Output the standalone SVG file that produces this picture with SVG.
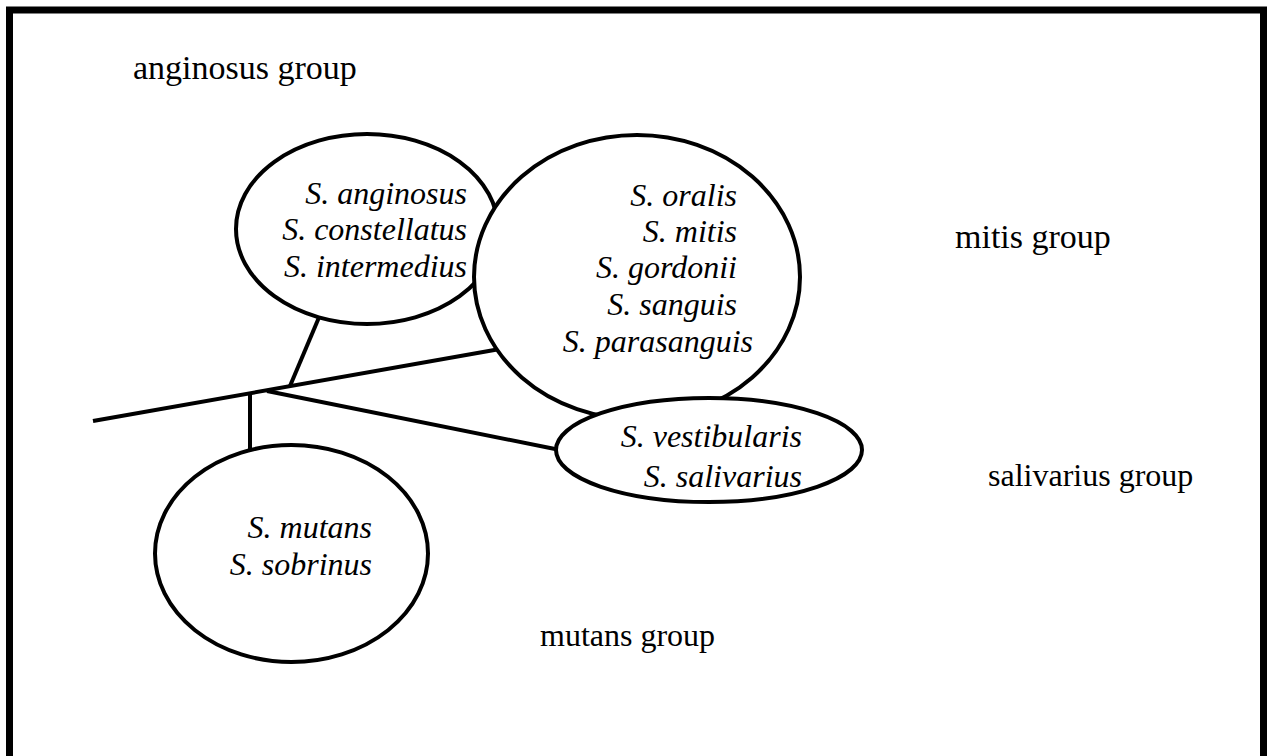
<svg xmlns="http://www.w3.org/2000/svg" width="1269" height="756" viewBox="0 0 1269 756">
<style>
.lbl{font-family:"Liberation Serif","Times New Roman",serif;font-size:34px;fill:#000}
.sm{font-size:32px}
.sp{font-family:"Liberation Serif","Times New Roman",serif;font-style:italic;font-size:32px;fill:#000;text-anchor:end}
.ell{fill:#fff;stroke:#000;stroke-width:4}
.con{stroke:#000;stroke-width:4;fill:none}
</style>
<rect x="0" y="0" width="1269" height="756" fill="#fff"/>
<rect x="9.5" y="10" width="1254" height="760" fill="none" stroke="#000" stroke-width="7"/>
<g id="labels">
<text class="lbl" x="133" y="79">anginosus group</text>
<text class="lbl" x="955" y="248">mitis group</text>
<text class="lbl sm" x="988" y="486">salivarius group</text>
<text class="lbl sm" x="540" y="646">mutans group</text>
</g>
<g id="connectors">
<line class="con" x1="93" y1="421" x2="500" y2="349"/>
<line class="con" x1="290" y1="386" x2="320" y2="315"/>
<line class="con" x1="250" y1="392" x2="250" y2="452"/>
<line class="con" x1="267" y1="391" x2="560" y2="450"/>
</g>
<g id="node-anginosus">
<ellipse class="ell" cx="367" cy="229" rx="131" ry="95"/>
<text class="sp" x="467" y="204">S. anginosus</text>
<text class="sp" x="467" y="240">S. constellatus</text>
<text class="sp" x="467" y="277">S. intermedius</text>
</g>
<g id="node-mitis">
<ellipse class="ell" cx="637" cy="277" rx="163" ry="142"/>
<text class="sp" x="737" y="206">S. oralis</text>
<text class="sp" x="737" y="242">S. mitis</text>
<text class="sp" x="737" y="278">S. gordonii</text>
<text class="sp" x="737" y="315">S. sanguis</text>
<text class="sp" x="753" y="352">S. parasanguis</text>
</g>
<g id="node-salivarius">
<ellipse class="ell" cx="709" cy="450" rx="153" ry="52"/>
<text class="sp" x="802" y="447">S. vestibularis</text>
<text class="sp" x="802" y="487">S. salivarius</text>
</g>
<g id="node-mutans">
<ellipse class="ell" cx="291.5" cy="553.5" rx="136.5" ry="108.5"/>
<text class="sp" x="372" y="538">S. mutans</text>
<text class="sp" x="372" y="575">S. sobrinus</text>
</g>
</svg>
